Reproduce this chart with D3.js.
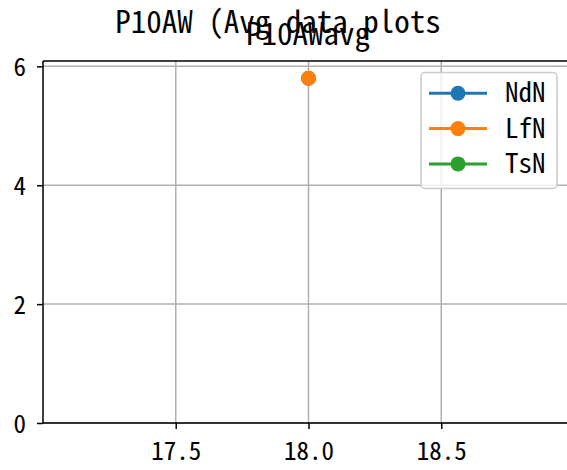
<!DOCTYPE html>
<html><head><meta charset="utf-8">
<script src="https://cdn.jsdelivr.net/npm/d3@7"></script>
<style>body{margin:0;background:#fff}</style>
</head><body>
<script>
const seriesNames = ["NdN", "LfN", "TsN"];
const seriesColors = ["#1f77b4", "#ff7f0e", "#2ca02c"];
const xValues = [18.0];
const ndnValues = [5.8];
const lfnValues = [5.8];
const tsnValues = [];
const xTicks = [17.5, 18.0, 18.5];
const yTicks = [0, 2, 4, 6];
const suptitle = "P10AW (Avg data plots";
const axTitle = "P10AWavg";

const W = 567, H = 470;
const svg = d3.select("body").append("svg").attr("width", W).attr("height", H);

// pick a half-width monospace font if available, else narrow Liberation Mono
let font = "'Noto Sans Mono CJK SC', 'Noto Sans Mono CJK JP'";
let SX = 1;
{
  const t = svg.append("text").attr("font-family", font).attr("font-size", 100).text("0000000000");
  const w = t.node().getComputedTextLength();
  t.remove();
  if (Math.abs(w - 500) > 15) {
    font = "'Liberation Mono', 'DejaVu Sans Mono', monospace";
    SX = 0.833;
  }
}

const m = {left: 43, top: 61, right: 574, bottom: 423};
const x = d3.scaleLinear().domain([17.0, 19.0]).range([m.left, m.right]);
const y = d3.scaleLinear().domain([0, 6.09]).range([m.bottom, m.top]);

function label(parent, tx, ty, str, size, anchor) {
  const g = parent.append("g").attr("transform", `translate(${tx},${ty}) scale(${SX},1)`);
  g.append("text").attr("x", 0).attr("y", 0).attr("text-anchor", anchor || "start")
    .attr("font-family", font).attr("font-size", size).attr("fill", "#000").text(str);
  return g;
}

// grid
svg.append("g").selectAll("line").data(xTicks).join("line")
  .attr("x1", d => x(d)).attr("x2", d => x(d)).attr("y1", m.top).attr("y2", m.bottom)
  .attr("stroke", "#b0b0b0").attr("stroke-width", 1.5);
svg.append("g").selectAll("line").data(yTicks).join("line")
  .attr("y1", d => y(d)).attr("y2", d => y(d)).attr("x1", m.left).attr("x2", m.right)
  .attr("stroke", "#b0b0b0").attr("stroke-width", 1.5);

// axes (ticks via d3 axes, labels drawn with the chosen font)
const xAxis = svg.append("g").attr("transform", `translate(0,${m.bottom})`)
  .call(d3.axisBottom(x).tickValues(xTicks).tickFormat(d3.format(".1f")).tickSize(6));
const yAxis = svg.append("g").attr("transform", `translate(${m.left},0)`)
  .call(d3.axisLeft(y).tickValues(yTicks).tickFormat(d3.format("d")).tickSize(6));
[xAxis, yAxis].forEach(a => {
  a.select(".domain").remove();
  a.selectAll(".tick line").attr("stroke", "#000").attr("stroke-width", 1.5);
  a.selectAll(".tick text").remove();
});
xAxis.selectAll(".tick").each(function(d) {
  label(d3.select(this), 0, 37, d3.format(".1f")(d), 25, "middle");
});
yAxis.selectAll(".tick").each(function(d) {
  label(d3.select(this), -17, 9, d3.format("d")(d), 25, "end");
});

// spines
svg.append("line").attr("x1", m.left).attr("x2", m.left).attr("y1", m.top).attr("y2", m.bottom)
  .attr("stroke", "#000").attr("stroke-width", 1.5);
svg.append("line").attr("x1", m.left).attr("x2", m.right).attr("y1", m.bottom).attr("y2", m.bottom)
  .attr("stroke", "#000").attr("stroke-width", 1.5);
svg.append("line").attr("x1", m.left).attr("x2", m.right).attr("y1", m.top).attr("y2", m.top)
  .attr("stroke", "#000").attr("stroke-width", 1.5);

// series
const allSeries = [ndnValues, lfnValues, tsnValues];
const line = d3.line().x((d, i) => x(xValues[i])).y(d => y(d));
allSeries.forEach((vals, k) => {
  const g = svg.append("g");
  g.append("path").datum(vals).attr("d", line).attr("fill", "none")
    .attr("stroke", seriesColors[k]).attr("stroke-width", 3);
  g.selectAll("circle").data(vals).join("circle")
    .attr("cx", (d, i) => x(xValues[i])).attr("cy", d => y(d)).attr("r", 7.5)
    .attr("fill", seriesColors[k]);
});

// titles
label(svg, 278, 33, suptitle, 31, "middle");
label(svg, 308, 45, axTitle, 31, "middle");

// legend
const lg = svg.append("g");
lg.append("rect").attr("x", 421).attr("y", 72.5).attr("width", 136).attr("height", 116)
  .attr("rx", 4).attr("fill", "#fff").attr("fill-opacity", 0.8)
  .attr("stroke", "#cccccc").attr("stroke-width", 1.5);
seriesNames.forEach((name, k) => {
  const yy = 93.3 + k * 35.3;
  lg.append("line").attr("x1", 429).attr("x2", 487).attr("y1", yy).attr("y2", yy)
    .attr("stroke", seriesColors[k]).attr("stroke-width", 3);
  lg.append("circle").attr("cx", 458).attr("cy", yy).attr("r", 7.5).attr("fill", seriesColors[k]);
  label(lg, 505, yy + 9, name, 27, "start");
});
</script>
</body></html>
